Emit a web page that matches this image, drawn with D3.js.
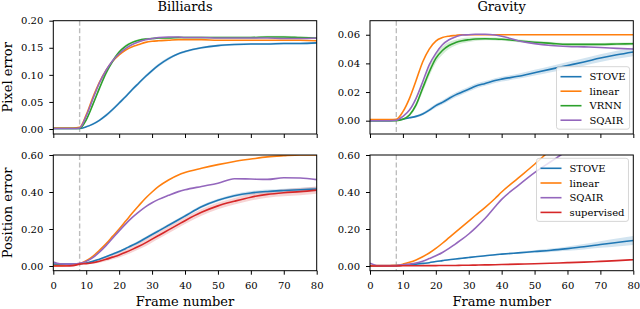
<!DOCTYPE html>
<html>
<head>
<meta charset="utf-8">
<script src="https://cdn.jsdelivr.net/npm/d3@7"></script>
<style>
body { margin: 0; background: #fff; }
svg text { font-family: "DejaVu Serif", serif; fill: #000; }
</style>
</head>
<body>
<svg id="chart" width="640" height="309"></svg>
<script>
const frames = [0,2,4,6,8,10,12,14,16,18,20,22,24,26,28,30,32,35,38,40,45,50,55,60,65,70,75,80];
const xTicks = [0,10,20,30,40,50,60,70,80];
const splitFrame = 8;

// Billiards, pixel error
const bpStove  = [0.001,0.001,0.001,0.001,0.001,0.004,0.009,0.016,0.025,0.036,0.048,0.060,0.073,0.085,0.097,0.108,0.118,0.130,0.139,0.143,0.150,0.154,0.156,0.157,0.157,0.158,0.158,0.159];
const bpLinear = [0.002,0.002,0.002,0.002,0.003,0.026,0.058,0.086,0.108,0.125,0.137,0.146,0.152,0.156,0.160,0.162,0.163,0.164,0.165,0.165,0.165,0.164,0.164,0.164,0.164,0.164,0.164,0.163];
const bpVrnn   = [0.001,0.001,0.001,0.001,0.001,0.017,0.045,0.075,0.103,0.125,0.142,0.153,0.160,0.164,0.166,0.167,0.168,0.168,0.169,0.169,0.169,0.169,0.169,0.169,0.170,0.170,0.169,0.168];
const bpSqair  = [0.001,0.001,0.001,0.001,0.002,0.024,0.055,0.085,0.108,0.126,0.139,0.149,0.156,0.161,0.165,0.167,0.169,0.170,0.170,0.169,0.169,0.168,0.168,0.168,0.168,0.167,0.167,0.168];
const bpStoveErr = [0,0,0,0,0,0.001,0.002,0.002,0.003,0.003,0.003,0.003,0.003,0.003,0.003,0.003,0.003,0.003,0.002,0.002,0.002,0.002,0.002,0.002,0.002,0.002,0.002,0.002];
const bpVrnnErr  = [0,0,0,0,0,0.002,0.003,0.004,0.004,0.004,0.003,0.003,0.002,0.002,0.002,0.002,0.002,0.002,0.002,0.002,0.002,0.002,0.002,0.002,0.002,0.002,0.002,0.002];

// Gravity, pixel error
const gpStove  = [0,0,0,0,0.0003,0.001,0.002,0.003,0.0047,0.0074,0.0105,0.0128,0.0155,0.018,0.020,0.022,0.024,0.026,0.028,0.029,0.031,0.0335,0.036,0.0385,0.041,0.0437,0.046,0.048];
const gpLinear = [0.0008,0.0008,0.0008,0.0008,0.001,0.0063,0.0156,0.028,0.041,0.050,0.0556,0.058,0.059,0.0595,0.060,0.060,0.060,0.060,0.060,0.060,0.060,0.060,0.060,0.060,0.060,0.060,0.060,0.060];
const gpVrnn   = [0,0,0,0,0,0.001,0.004,0.011,0.0226,0.034,0.0435,0.049,0.0525,0.0545,0.0558,0.0565,0.057,0.0572,0.057,0.0568,0.0558,0.0548,0.054,0.0533,0.0533,0.0533,0.0535,0.0537];
const gpSqair  = [0,0,0,0,0.0003,0.003,0.0074,0.0156,0.027,0.039,0.047,0.053,0.0565,0.0585,0.0598,0.060,0.0603,0.0603,0.0598,0.059,0.0558,0.0538,0.0525,0.0518,0.0515,0.0511,0.0505,0.050];
const gpStoveErr = [0,0,0,0,0,0.0003,0.0005,0.0008,0.001,0.0012,0.0014,0.0015,0.0016,0.0017,0.0017,0.0017,0.0017,0.0017,0.0017,0.0017,0.0018,0.002,0.0022,0.0024,0.0026,0.0027,0.0028,0.003];
const gpVrnnErr  = [0,0,0,0,0,0.0005,0.001,0.0018,0.0025,0.003,0.003,0.003,0.0025,0.002,0.0018,0.0015,0.0013,0.001,0.001,0.001,0.001,0.001,0.001,0.001,0.001,0.001,0.001,0.001];

// Billiards, position error
const bqStove  = [0.01,0.01,0.01,0.01,0.012,0.016,0.025,0.037,0.05,0.064,0.078,0.095,0.112,0.13,0.15,0.17,0.19,0.22,0.25,0.27,0.32,0.355,0.38,0.395,0.403,0.408,0.412,0.416];
const bqLinear = [0.003,0.003,0.004,0.006,0.012,0.028,0.052,0.085,0.12,0.16,0.2,0.243,0.286,0.327,0.366,0.4,0.43,0.465,0.492,0.505,0.528,0.548,0.565,0.578,0.59,0.596,0.60,0.60];
const bqSqair  = [0.022,0.012,0.01,0.011,0.015,0.025,0.045,0.075,0.11,0.15,0.19,0.228,0.263,0.293,0.32,0.342,0.36,0.382,0.402,0.412,0.43,0.447,0.472,0.47,0.468,0.477,0.476,0.467];
const bqSup    = [0,0,0,0.002,0.01,0.013,0.018,0.026,0.036,0.048,0.06,0.074,0.09,0.107,0.125,0.145,0.165,0.195,0.225,0.245,0.29,0.325,0.35,0.372,0.387,0.396,0.402,0.41];
const bqStoveErr = [0,0,0,0,0,0.002,0.003,0.004,0.005,0.006,0.006,0.007,0.007,0.008,0.008,0.008,0.008,0.008,0.008,0.008,0.008,0.008,0.009,0.01,0.01,0.01,0.011,0.012];
const bqSupErr   = [0,0,0,0,0.002,0.004,0.006,0.008,0.01,0.012,0.014,0.015,0.016,0.017,0.018,0.018,0.018,0.018,0.018,0.018,0.018,0.018,0.018,0.018,0.018,0.019,0.02,0.02];

// Gravity, position error
const gqStove  = [0,0,0.001,0.001,0.002,0.004,0.007,0.01,0.014,0.018,0.024,0.029,0.034,0.038,0.042,0.046,0.05,0.055,0.061,0.064,0.071,0.078,0.085,0.094,0.104,0.116,0.127,0.138];
const gqLinear = [0.002,0.002,0.002,0.003,0.004,0.01,0.02,0.033,0.05,0.07,0.095,0.123,0.153,0.183,0.213,0.243,0.273,0.317,0.365,0.40,0.475,0.55,0.63,0.71,0.79,0.87,0.95,1.03];
const gqSqair  = [0.015,0.003,0.002,0.002,0.003,0.006,0.01,0.016,0.026,0.04,0.055,0.073,0.095,0.12,0.145,0.173,0.205,0.258,0.32,0.36,0.435,0.505,0.565,0.625,0.69,0.75,0.81,0.87];
const gqSup    = [0,0,0,0,0,0.001,0.001,0.001,0.002,0.002,0.002,0.003,0.003,0.003,0.004,0.004,0.005,0.006,0.007,0.008,0.01,0.012,0.015,0.018,0.021,0.025,0.029,0.034];
const gqStoveErr = [0,0,0,0,0,0.001,0.001,0.002,0.002,0.002,0.003,0.003,0.003,0.003,0.003,0.003,0.003,0.003,0.004,0.004,0.005,0.007,0.009,0.012,0.015,0.018,0.021,0.024];

const pixTicksB = [0, 0.05, 0.10, 0.15, 0.20];
const pixTicksG = [0, 0.02, 0.04, 0.06];
const posTicks  = [0, 0.20, 0.40, 0.60];

const C = { stove: "#1f77b4", linear: "#ff7f0e", vrnn: "#2ca02c", sup: "#d62728", sqair: "#9467bd" };

const svg = d3.select("#chart");
let clipId = 0;

function drawPanel(p) {
	const x = d3.scaleLinear().domain([0, 80]).range([p.left, p.right]);
	const y = d3.scaleLinear().domain(p.yDomain).range([p.bottom, p.top]);

	const id = "clip" + (clipId++);
	svg.append("clipPath").attr("id", id)
		.append("rect")
		.attr("x", p.left).attr("y", p.top)
		.attr("width", p.right - p.left).attr("height", p.bottom - p.top);

	const g = svg.append("g").attr("clip-path", "url(#" + id + ")");

	// error bands
	p.series.filter((s) => s.err).forEach((s) => {
		const band = d3.area()
			.x((d, i) => x(frames[i]))
			.y0((d, i) => y(s.values[i] - s.err[i]))
			.y1((d, i) => y(s.values[i] + s.err[i]))
			.curve(d3.curveMonotoneX);
		g.append("path")
			.attr("d", band(s.values))
			.attr("fill", s.color)
			.attr("fill-opacity", 0.2);
	});

	g.append("line")
		.attr("x1", x(splitFrame)).attr("x2", x(splitFrame))
		.attr("y1", p.top).attr("y2", p.bottom)
		.attr("stroke", "#bdbdbd")
		.attr("stroke-width", 1.4)
		.attr("stroke-dasharray", "5,2.6");

	const line = d3.line()
		.x((d, i) => x(frames[i]))
		.y((d) => y(d))
		.curve(d3.curveMonotoneX);

	p.series.forEach((s) => {
		g.append("path")
			.attr("d", line(s.values))
			.attr("fill", "none")
			.attr("stroke", s.color)
			.attr("stroke-width", 1.6);
	});

	// axes
	const yAxis = d3.axisLeft(y).tickValues(p.yTicks).tickFormat(d3.format(".2f")).tickSize(4).tickPadding(6);
	const ya = svg.append("g").attr("transform", "translate(" + p.left + ",0)").call(yAxis);

	const xAxis = d3.axisBottom(x).tickValues(xTicks).tickSize(4).tickPadding(7);
	if (!p.xLabels) xAxis.tickFormat("");
	const xa = svg.append("g").attr("transform", "translate(0," + p.bottom + ")").call(xAxis);

	[ya, xa].forEach((a) => {
		a.select(".domain").remove();
		a.selectAll("line").attr("stroke", "#000").attr("stroke-width", 1);
		a.selectAll("text").style("font-family", "DejaVu Serif").style("font-size", "10px");
	});

	svg.append("rect")
		.attr("x", p.left).attr("y", p.top)
		.attr("width", p.right - p.left).attr("height", p.bottom - p.top)
		.attr("fill", "none")
		.attr("stroke", "#000")
		.attr("stroke-width", 1);

	if (p.title) {
		svg.append("text")
			.attr("x", (p.left + p.right) / 2).attr("y", 11)
			.attr("text-anchor", "middle")
			.style("font-size", "13px")
			.text(p.title);
	}
	if (p.yLabel) {
		svg.append("text")
			.attr("transform", "translate(12," + (p.top + p.bottom) / 2 + ") rotate(-90)")
			.attr("text-anchor", "middle")
			.style("font-size", "13px")
			.text(p.yLabel);
	}
	if (p.xLabels) {
		svg.append("text")
			.attr("x", (p.left + p.right) / 2).attr("y", 306)
			.attr("text-anchor", "middle")
			.style("font-size", "13px")
			.text("Frame number");
	}

	if (p.legend) {
		const L = p.legend;
		const lg = svg.append("g");
		const box = lg.append("rect");
		let maxW = 0;
		p.series.forEach((s, i) => {
			const cy = L.y + i * L.step;
			lg.append("line")
				.attr("x1", L.x).attr("x2", L.x + 21)
				.attr("y1", cy).attr("y2", cy)
				.attr("stroke", s.color)
				.attr("stroke-width", 1.6);
			const t = lg.append("text")
				.attr("x", L.x + 29).attr("y", cy)
				.attr("dy", "0.35em")
				.style("font-size", "10px")
				.text(s.name);
			maxW = Math.max(maxW, t.node().getComputedTextLength());
		});
		box.attr("x", L.x - 4).attr("y", L.y - 10)
			.attr("width", 29 + maxW + 8)
			.attr("height", (p.series.length - 1) * L.step + 19)
			.attr("rx", 2.5)
			.attr("fill", "#fff").attr("fill-opacity", 0.8)
			.attr("stroke", "#cccccc").attr("stroke-width", 0.8);
	}
}

drawPanel({
	left: 53.3, right: 316.7, top: 20.7, bottom: 134,
	yDomain: [-0.0092, 0.2], yTicks: pixTicksB,
	title: "Billiards", yLabel: "Pixel error", xLabels: false,
	series: [
		{ name: "STOVE", values: bpStove, color: C.stove, err: bpStoveErr },
		{ name: "linear", values: bpLinear, color: C.linear },
		{ name: "VRNN", values: bpVrnn, color: C.vrnn, err: bpVrnnErr },
		{ name: "SQAIR", values: bpSqair, color: C.sqair }
	]
});

drawPanel({
	left: 370, right: 633.3, top: 20.7, bottom: 134,
	yDomain: [-0.0093, 0.0698], yTicks: pixTicksG,
	title: "Gravity", xLabels: false,
	legend: { x: 560.5, y: 76.7, step: 14.5 },
	series: [
		{ name: "STOVE", values: gpStove, color: C.stove, err: gpStoveErr },
		{ name: "linear", values: gpLinear, color: C.linear },
		{ name: "VRNN", values: gpVrnn, color: C.vrnn, err: gpVrnnErr },
		{ name: "SQAIR", values: gpSqair, color: C.sqair }
	]
});

drawPanel({
	left: 53.3, right: 316.7, top: 155, bottom: 270.7,
	yDomain: [-0.0254, 0.6], yTicks: posTicks,
	yLabel: "Position error", xLabels: true,
	series: [
		{ name: "STOVE", values: bqStove, color: C.stove, err: bqStoveErr },
		{ name: "linear", values: bqLinear, color: C.linear },
		{ name: "SQAIR", values: bqSqair, color: C.sqair },
		{ name: "supervised", values: bqSup, color: C.sup, err: bqSupErr }
	]
});

drawPanel({
	left: 370, right: 633.3, top: 155, bottom: 270.7,
	yDomain: [-0.0254, 0.6], yTicks: posTicks,
	xLabels: true,
	legend: { x: 540.5, y: 168.3, step: 14.7 },
	series: [
		{ name: "STOVE", values: gqStove, color: C.stove, err: gqStoveErr },
		{ name: "linear", values: gqLinear, color: C.linear },
		{ name: "SQAIR", values: gqSqair, color: C.sqair },
		{ name: "supervised", values: gqSup, color: C.sup }
	]
});
</script>
</body>
</html>
